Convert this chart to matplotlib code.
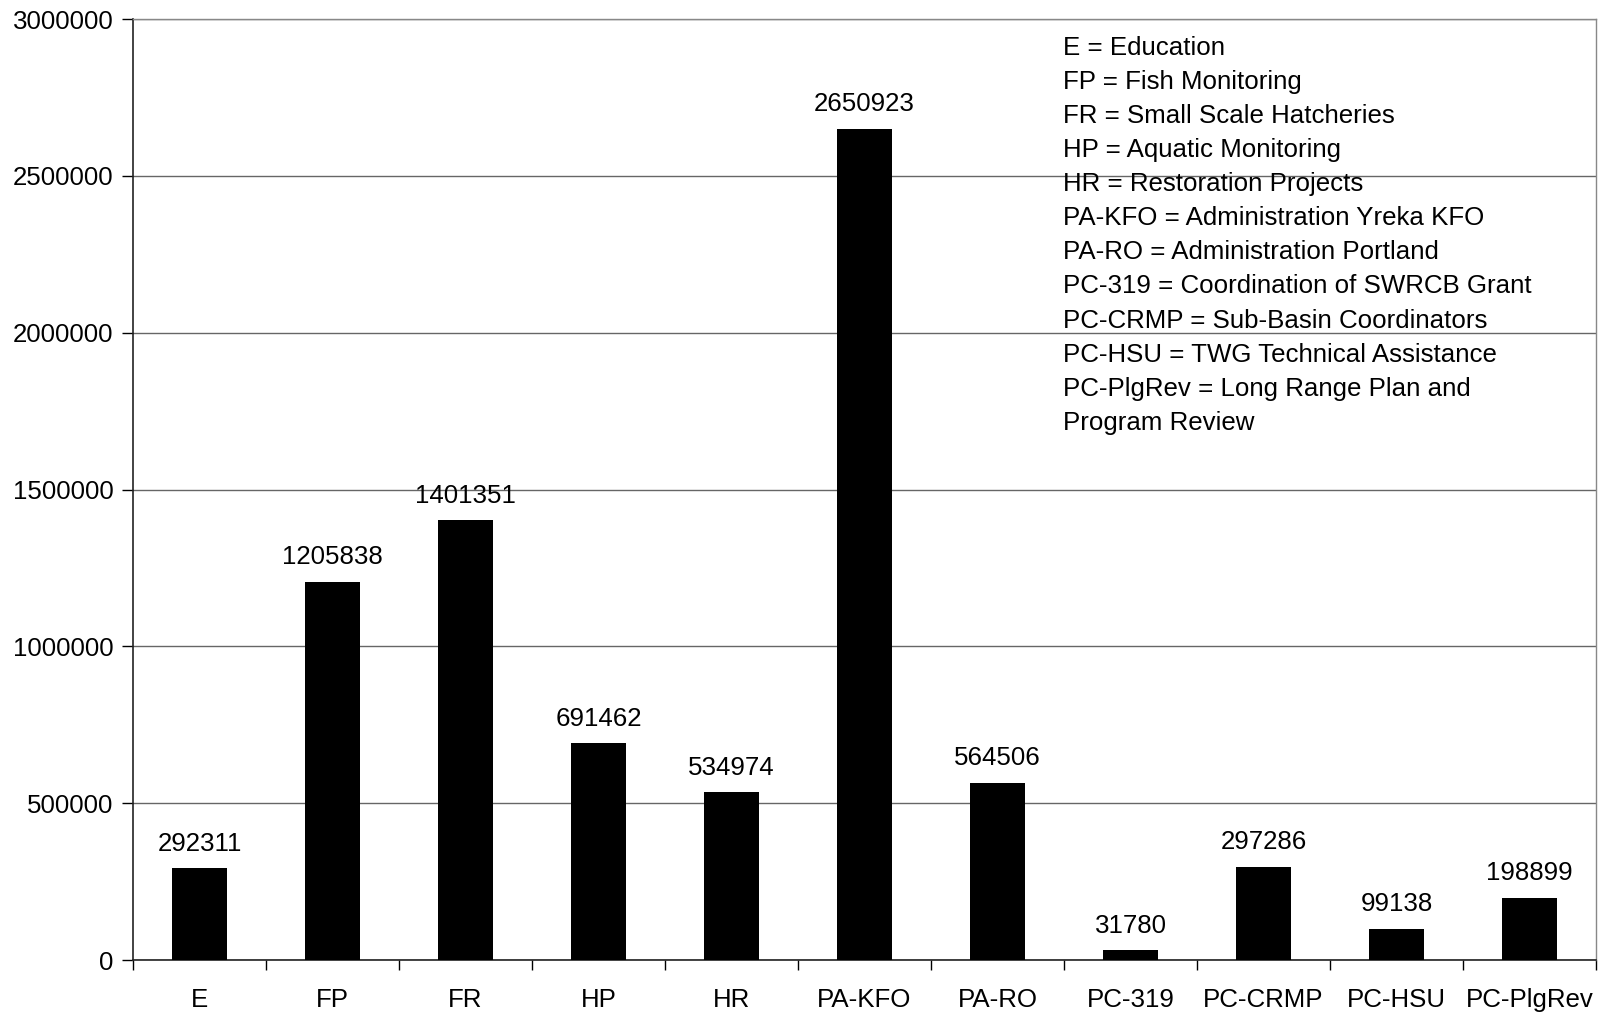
import numpy as np
import matplotlib.pyplot as plt
from matplotlib.ticker import FixedLocator

plt.rcParams['font.family'] = ['Liberation Sans', 'DejaVu Sans']

# data
categories = ["E", "FP", "FR", "HP", "HR", "PA-KFO", "PA-RO",
              "PC-319", "PC-CRMP", "PC-HSU", "PC-PlgRev"]
values = [292311, 1205838, 1401351, 691462, 534974, 2650923, 564506,
          31780, 297286, 99138, 198899]
legend_lines = [
    "E = Education",
    "FP = Fish Monitoring",
    "FR = Small Scale Hatcheries",
    "HP = Aquatic Monitoring",
    "HR = Restoration Projects",
    "PA-KFO = Administration Yreka KFO",
    "PA-RO = Administration Portland",
    "PC-319 = Coordination of SWRCB Grant",
    "PC-CRMP = Sub-Basin Coordinators",
    "PC-HSU = TWG Technical Assistance",
    "PC-PlgRev = Long Range Plan and",
    "Program Review",
]
yticks = [0, 500000, 1000000, 1500000, 2000000, 2500000, 3000000]

fs = 18.6

fig = plt.figure(figsize=(16.02, 10.13), dpi=100)
ax = fig.add_axes([0.083, 0.0523, 0.9133, 0.9289])

x = np.arange(len(categories))
bars = ax.bar(x, values, width=0.42, color="black", zorder=3)

for b, v in zip(bars, values):
    ax.annotate(str(v), (b.get_x() + b.get_width() / 2, v),
                xytext=(0, 9), textcoords="offset points",
                ha="center", va="bottom", fontsize=fs)

ax.set_xlim(-0.5, len(categories) - 0.5)
ax.set_ylim(0, 3000000)
ax.set_yticks(yticks)
ax.set_yticklabels([str(t) for t in yticks], fontsize=fs)
ax.set_xticks(x)
ax.set_xticklabels(categories, fontsize=fs)
ax.xaxis.set_minor_locator(FixedLocator(np.arange(-0.5, len(categories), 1.0)))
ax.tick_params(axis="x", which="major", length=0, pad=20)
ax.tick_params(axis="x", which="minor", length=7, width=1, direction="out")
ax.tick_params(axis="y", length=8, width=1, direction="out", pad=6)

ax.yaxis.grid(True, color="#666666", linewidth=1, zorder=0)
for s in ["left", "bottom"]:
    ax.spines[s].set_color("#222222")
    ax.spines[s].set_linewidth(1.2)
for s in ["top", "right"]:
    ax.spines[s].set_color("#888888")
    ax.spines[s].set_linewidth(1)

ax.text(0.6357, 0.982, "\n".join(legend_lines), transform=ax.transAxes,
        ha="left", va="top", fontsize=fs, linespacing=1.53, zorder=4)

fig.savefig("out.png", dpi=100)
